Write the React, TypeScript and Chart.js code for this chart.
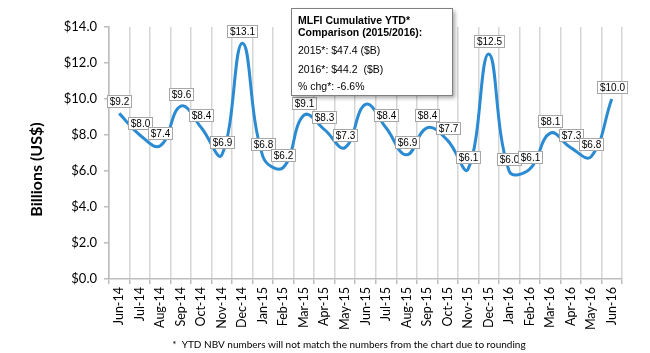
import React, { useEffect, useRef } from "react";
import { Chart, registerables } from "chart.js";

Chart.register(...registerables);

const categories = [
  "Jun-14", "Jul-14", "Aug-14", "Sep-14", "Oct-14", "Nov-14", "Dec-14",
  "Jan-15", "Feb-15", "Mar-15", "Apr-15", "May-15", "Jun-15", "Jul-15",
  "Aug-15", "Sep-15", "Oct-15", "Nov-15", "Dec-15", "Jan-16", "Feb-16",
  "Mar-16", "Apr-16", "May-16", "Jun-16",
];
const monthlyValues = [
  9.2, 8.0, 7.4, 9.6, 8.4, 6.9, 13.1, 6.8, 6.2, 9.1, 8.3, 7.3, 9.7, 8.4,
  6.9, 8.4, 7.7, 6.1, 12.5, 6.0, 6.1, 8.1, 7.3, 6.8, 10.0,
];
const yMin = 0;
const yMax = 14;
const yStep = 2;
const yTitle = "Billions (US$)";
const noteTitleLines = ["MLFI Cumulative YTD*", "Comparison (2015/2016):"];
const noteBodyLines = ["2015*: $47.4 ($B)", "2016*: $44.2  ($B)", "% chg*: -6.6%"];
const footnote = "*  YTD NBV numbers will not match the numbers from the chart due to rounding";

const LINE_COLOR = "#2A8AD2";
const GRID_COLOR = "#D6D6D6";
const AXIS_COLOR = "#BDBDBD";
const CAL = "Lato, 'Open Sans', sans-serif";
const ARIAL = "'Liberation Sans', Arial, sans-serif";

const fmt = (v: number) => "$" + v.toFixed(1);

const BOX = { x: 291.5, y: 8.5, w: 161, h: 87 };

const decorPlugin = {
  id: "decor",
  afterDraw(chart: any) {
    const ctx = chart.ctx as CanvasRenderingContext2D;
    const meta = chart.getDatasetMeta(0);
    const data = chart.data.datasets[0].data as number[];
    ctx.save();
    // data labels
    ctx.font = "10px " + ARIAL;
    ctx.textAlign = "center";
    ctx.textBaseline = "middle";
    meta.data.forEach((pt: any, i: number) => {
      const txt = fmt(data[i]);
      const w = Math.round(ctx.measureText(txt).width + 5);
      const h = 12;
      let cx = pt.x;
      const cy = pt.y - 12.5;
      const maxX = chart.width - 2 - w / 2;
      if (cx > maxX) cx = maxX;
      const x0 = Math.round(cx - w / 2) + 0.5;
      const y0 = Math.round(cy - h / 2) + 0.5;
      // labels mostly hidden behind the note box are not shown
      const ox = Math.max(0, Math.min(x0 + w, BOX.x + BOX.w) - Math.max(x0, BOX.x));
      const oy = Math.max(0, Math.min(y0 + h, BOX.y + BOX.h) - Math.max(y0, BOX.y));
      if (ox * oy > 0.5 * w * h) return;
      ctx.fillStyle = "#FFFFFF";
      ctx.fillRect(x0, y0, w, h);
      ctx.strokeStyle = "#A6A6A6";
      ctx.lineWidth = 1;
      ctx.strokeRect(x0, y0, w, h);
      ctx.fillStyle = "#000000";
      ctx.fillText(txt, x0 + w / 2, y0 + h / 2 + 0.5);
    });

    // annotation box
    ctx.save();
    ctx.shadowColor = "rgba(0,0,0,0.35)";
    ctx.shadowBlur = 4;
    ctx.shadowOffsetX = 2;
    ctx.shadowOffsetY = 2;
    ctx.fillStyle = "#FFFFFF";
    ctx.fillRect(BOX.x, BOX.y, BOX.w, BOX.h);
    ctx.restore();
    ctx.strokeStyle = "#808080";
    ctx.lineWidth = 1;
    ctx.strokeRect(BOX.x, BOX.y, BOX.w, BOX.h);
    ctx.fillStyle = "#000000";
    ctx.textAlign = "left";
    ctx.textBaseline = "middle";
    ctx.font = "bold 10.5px " + ARIAL;
    const titleYs = [21.5, 33.5];
    noteTitleLines.forEach((t, i) => ctx.fillText(t, 298, titleYs[i]));
    ctx.font = "10.5px " + ARIAL;
    const bodyYs = [51.5, 70, 87.5];
    noteBodyLines.forEach((t, i) => ctx.fillText(t, 298, bodyYs[i]));

    // y-axis title
    ctx.save();
    ctx.translate(36.5, 169.5);
    ctx.rotate(-Math.PI / 2);
    ctx.font = "bold 16px " + CAL;
    ctx.textAlign = "center";
    ctx.textBaseline = "middle";
    ctx.fillText(yTitle, 0, 0);
    ctx.restore();

    // footnote
    ctx.font = "10px " + CAL;
    ctx.textAlign = "center";
    ctx.textBaseline = "middle";
    ctx.fillText(footnote, 349, 345);
    ctx.restore();
  },
};

export default function App() {
  const ref = useRef<HTMLCanvasElement | null>(null);
  useEffect(() => {
    if (!ref.current) return;
    const chart = new Chart(ref.current, {
      type: "line",
      data: {
        labels: categories,
        datasets: [
          {
            data: monthlyValues,
            borderColor: LINE_COLOR,
            borderWidth: 3,
            tension: 0.42,
            pointRadius: 0,
            fill: false,
          },
        ],
      },
      options: {
        animation: false,
        responsive: false,
        devicePixelRatio: 1,
        layout: { padding: { left: 0, top: 27, right: 28, bottom: 0 } },
        plugins: { legend: { display: false }, tooltip: { enabled: false } },
        scales: {
          x: {
            type: "category",
            offset: true,
            grid: {
              offset: true,
              color: GRID_COLOR,
              lineWidth: 1.5,
              drawTicks: true,
              tickLength: 5,
              tickColor: AXIS_COLOR,
            },
            border: { color: AXIS_COLOR, width: 1.5 },
            ticks: {
              autoSkip: false,
              minRotation: 90,
              maxRotation: 90,
              color: "#000000",
              padding: 3,
              font: { family: CAL, size: 12.5 },
            },
            afterFit: (s: any) => {
              s.height = 74;
            },
          },
          y: {
            min: yMin,
            max: yMax,
            grid: {
              drawOnChartArea: false,
              drawTicks: true,
              tickLength: 5,
              tickColor: AXIS_COLOR,
              lineWidth: 1.5,
            },
            border: { color: AXIS_COLOR, width: 1.5 },
            ticks: {
              stepSize: yStep,
              color: "#000000",
              padding: 7,
              font: { family: CAL, size: 13 },
              callback: (v: any) => fmt(Number(v)),
            },
            afterFit: (s: any) => {
              s.width = 109;
            },
          },
        },
      },
      plugins: [decorPlugin],
    });
    return () => chart.destroy();
  }, []);
  return (
    <div style={{ position: "absolute", left: 0, top: 0, width: 650, height: 353, background: "#fff" }}>
      <canvas ref={ref} width={650} height={353} style={{ display: "block" }} />
    </div>
  );
}
